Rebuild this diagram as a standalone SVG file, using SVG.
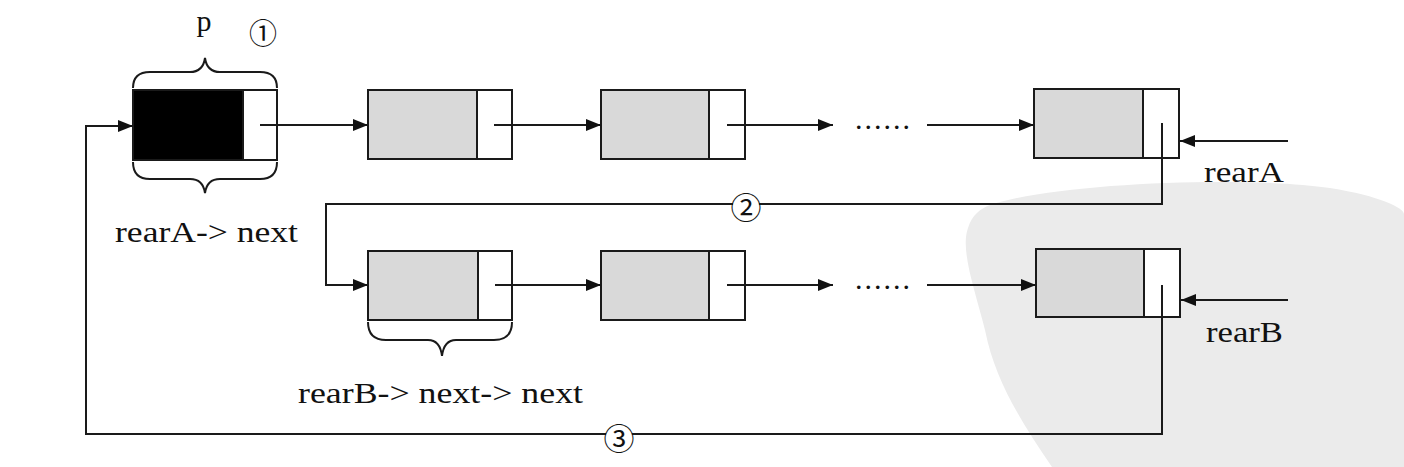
<svg xmlns="http://www.w3.org/2000/svg" width="1404" height="467" viewBox="0 0 1404 467">
<style>
.bg{fill:#ffffff}
.wm{fill:#ebebeb}
.data{fill:#d9d9d9;stroke:#1a1a1a;stroke-width:2}
.head{fill:#000000;stroke:#1a1a1a;stroke-width:2}
.ptr{fill:#ffffff;stroke:#1a1a1a;stroke-width:2}
.ln{fill:none;stroke:#1a1a1a;stroke-width:2}
.brace{fill:none;stroke:#1a1a1a;stroke-width:2}
.t{font-family:"Liberation Serif","Times New Roman",serif;font-size:30px;fill:#111111}
.dots{font-family:"Liberation Serif",serif;font-size:30px;fill:#111111}
.num{font-family:"Noto Sans CJK SC","DejaVu Sans",sans-serif;font-size:31px;fill:#111111}
.num1{font-family:"Noto Sans CJK SC","DejaVu Sans",sans-serif;font-size:28px;fill:#111111}
.badge{fill:#ffffff}
</style>
<defs>
<marker id="arr" markerUnits="userSpaceOnUse" markerWidth="15" markerHeight="12" refX="15" refY="6" orient="auto">
<path d="M0,0 L15,6 L0,12 Z" fill="#111111"/>
</marker>
</defs>
<rect class="bg" x="0" y="0" width="1404" height="467"/>
<path class="wm" d="M990,205 C1060,182 1250,176 1330,188 C1380,196 1404,208 1404,214 L1404,467 L1052,467 C1020,420 995,380 985,330 C975,290 960,250 968,228 C972,215 980,209 990,205 Z"/>

<g id="nodeA1">
<rect class="head" x="133" y="90" width="110" height="70"/>
<rect class="ptr" x="243" y="90" width="34" height="70"/>
<path class="brace" d="M133,88 Q133,72 150,72 L190,72 Q203,72 205,58 Q207,72 220,72 L260,72 Q277,72 277,88"/>
<path class="brace" d="M133,162 Q133,179 150,179 L190,179 Q203,179 205,193 Q207,179 220,179 L260,179 Q277,179 277,162"/>
<text class="t" x="204" y="31" text-anchor="middle">p</text>
<text class="num1" x="263" y="32" text-anchor="middle" dominant-baseline="central">①</text>
<text class="t" x="115" y="242" textLength="183" lengthAdjust="spacingAndGlyphs">rearA-&gt; next</text>
</g>

<g id="nodeA2">
<rect class="data" x="368" y="90" width="109" height="69"/>
<rect class="ptr" x="477" y="90" width="35" height="69"/>
</g>

<g id="nodeA3">
<rect class="data" x="601" y="90" width="108" height="69"/>
<rect class="ptr" x="709" y="90" width="36" height="69"/>
</g>

<g id="dotsA"><text class="dots" x="855" y="129" textLength="55" lengthAdjust="spacing">......</text></g>

<g id="nodeA4">
<rect class="data" x="1034" y="89" width="109" height="69"/>
<rect class="ptr" x="1143" y="89" width="36" height="69"/>
<text class="t" x="1204" y="182" textLength="80" lengthAdjust="spacingAndGlyphs">rearA</text>
</g>

<g id="nodeB1">
<rect class="data" x="368" y="251" width="110" height="69"/>
<rect class="ptr" x="478" y="251" width="34" height="69"/>
<path class="brace" d="M368,322 Q368,340 386,340 L428,340 Q440,340 442,356 Q444,340 456,340 L494,340 Q512,340 512,322"/>
<text class="t" x="298" y="403" textLength="285" lengthAdjust="spacingAndGlyphs">rearB-&gt; next-&gt; next</text>
</g>

<g id="nodeB2">
<rect class="data" x="601" y="251" width="108" height="69"/>
<rect class="ptr" x="709" y="251" width="36" height="69"/>
</g>

<g id="dotsB"><text class="dots" x="855" y="289" textLength="55" lengthAdjust="spacing">......</text></g>

<g id="nodeB3">
<rect class="data" x="1036" y="249" width="108" height="68"/>
<rect class="ptr" x="1144" y="249" width="36" height="68"/>
<text class="t" x="1206" y="342" textLength="77" lengthAdjust="spacingAndGlyphs">rearB</text>
</g>

<g id="connectors">
<path class="ln" d="M1162,285 V434 H86 V126 H133" marker-end="url(#arr)"/>
<path class="ln" d="M1162,123 V204 H326 V285 H368" marker-end="url(#arr)"/>
<path class="ln" d="M260,125 H368" marker-end="url(#arr)"/>
<path class="ln" d="M494,125 H601" marker-end="url(#arr)"/>
<path class="ln" d="M727,125 H833" marker-end="url(#arr)"/>
<path class="ln" d="M927,125 H1034" marker-end="url(#arr)"/>
<path class="ln" d="M495,285 H601" marker-end="url(#arr)"/>
<path class="ln" d="M727,285 H833" marker-end="url(#arr)"/>
<path class="ln" d="M927,285 H1036" marker-end="url(#arr)"/>
<path class="ln" d="M1288,141 H1180" marker-end="url(#arr)"/>
<path class="ln" d="M1288,300 H1181" marker-end="url(#arr)"/>
<g id="badge2"><circle class="badge" cx="746" cy="204" r="13"/><text class="num" x="746" y="205" text-anchor="middle" dominant-baseline="central">②</text></g>
<g id="badge3"><circle class="badge" cx="619" cy="435" r="13"/><text class="num" x="619" y="436" text-anchor="middle" dominant-baseline="central">③</text></g>
</g>
</svg>
